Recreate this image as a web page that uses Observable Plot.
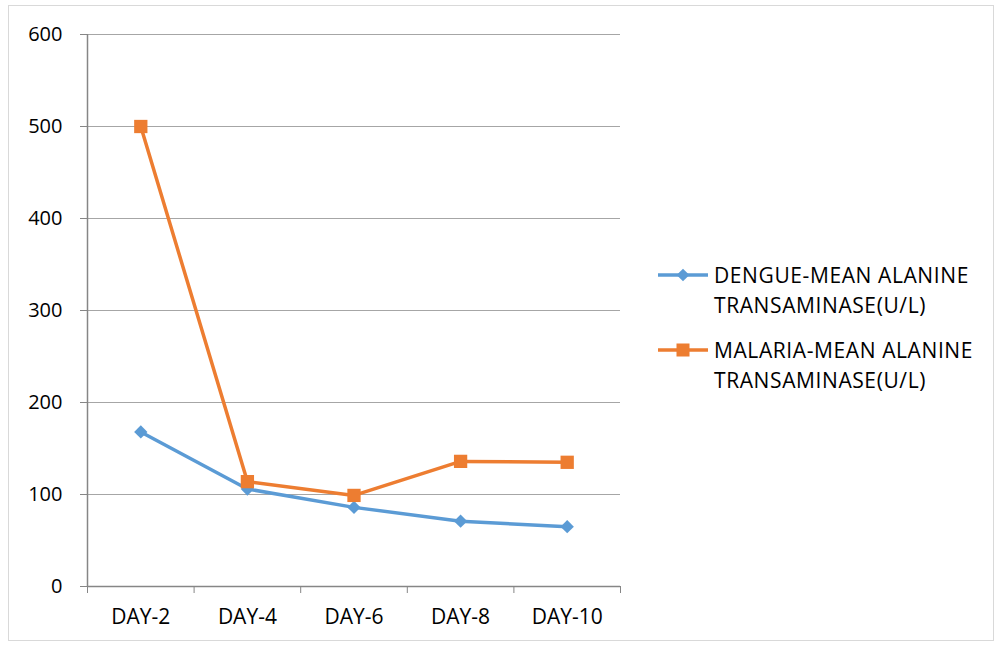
<!DOCTYPE html>
<html>
<head>
<meta charset="utf-8">
<script src="https://cdn.jsdelivr.net/npm/d3@7"></script>
<script src="https://cdn.jsdelivr.net/npm/@observablehq/plot@0.6"></script>
<style>
  body { margin: 0; background: #fff; }
  #wrap { position: relative; width: 994px; height: 646px; font-family: "Open Sans", sans-serif; color: #000; }
  #frame { position: absolute; left: 8px; top: 5px; width: 984px; height: 634px; border: 1px solid #d9d9d9; pointer-events: none; }
  .leg-text { position: absolute; font-size: 21px; line-height: 30px; letter-spacing: 0.6px; white-space: nowrap; color: #000; }
  .leg-key { position: absolute; }
</style>
</head>
<body>
<div id="wrap"><div id="frame"></div></div>
<script>
const categories = ["DAY-2", "DAY-4", "DAY-6", "DAY-8", "DAY-10"];
const dengue = [168, 106, 86, 71, 65];
const malaria = [500, 114, 99, 136, 135];
const yTicks = [0, 100, 200, 300, 400, 500, 600];
const seriesNames = ["DENGUE-MEAN ALANINE TRANSAMINASE(U/L)", "MALARIA-MEAN ALANINE TRANSAMINASE(U/L)"];
const colors = ["#5b9bd5", "#ed7d31"];

const dengueData = categories.map((c, i) => ({cat: c, pos: i + 0.5, v: dengue[i]}));
const malariaData = categories.map((c, i) => ({cat: c, pos: i + 0.5, v: malaria[i]}));
const boundaries = d3.range(categories.length + 1);

const chart = Plot.plot({
  width: 994,
  height: 646,
  marginLeft: 87,
  marginRight: 374,
  marginTop: 34,
  marginBottom: 60,
  style: {fontFamily: "Open Sans, sans-serif", color: "#000", background: "transparent"},
  x: {type: "linear", domain: [0, categories.length], axis: null},
  y: {domain: [0, 600], axis: null},
  marks: [
    Plot.ruleY(yTicks.filter(d => d > 0), {stroke: "#a6a6a6", strokeWidth: 1}),
    Plot.ruleY([0], {stroke: "#868686", strokeWidth: 1.5}),
    Plot.ruleX([0], {y1: 0, y2: 600, stroke: "#868686", strokeWidth: 1.5}),
    Plot.axisY({ticks: yTicks, tickSize: 7, tickPadding: 18, stroke: "#868686", fontSize: 20, fill: "#000", label: null}),
    Plot.axisX({ticks: boundaries, tickSize: 7, tickFormat: () => "", stroke: "#868686", label: null}),
    Plot.axisX({ticks: categories.map((c, i) => i + 0.5), tickSize: 0, tickPadding: 23, tickFormat: d => categories[Math.round(d - 0.5)], fontSize: 21, fill: "#000", label: null}),
    Plot.line(dengueData, {x: "pos", y: "v", stroke: colors[0], strokeWidth: 3.5}),
    Plot.line(malariaData, {x: "pos", y: "v", stroke: colors[1], strokeWidth: 3.5}),
    Plot.dot(dengueData, {x: "pos", y: "v", symbol: "diamond2", r: 6, fill: colors[0], stroke: null}),
    Plot.dot(malariaData, {x: "pos", y: "v", symbol: "square", r: 7.5, fill: colors[1], stroke: null})
  ]
});
const wrap = document.getElementById("wrap");
chart.style.position = "absolute";
chart.style.left = "0";
chart.style.top = "0";
wrap.appendChild(chart);

// Legend
const legendRows = [{y: 275, name: seriesNames[0], color: colors[0], symbol: "diamond"}, {y: 350, name: seriesNames[1], color: colors[1], symbol: "square"}];
legendRows.forEach(row => {
  const key = document.createElementNS("http://www.w3.org/2000/svg", "svg");
  key.setAttribute("class", "leg-key");
  key.setAttribute("width", 54);
  key.setAttribute("height", 20);
  key.style.left = "656px";
  key.style.top = (row.y - 10) + "px";
  let marker;
  if (row.symbol === "diamond") {
    marker = `<rect x="${27 - 4.5}" y="${10 - 4.5}" width="9" height="9" transform="rotate(45 27 10)" fill="${row.color}"/>`;
  } else {
    marker = `<rect x="${27 - 6.5}" y="${10 - 6.5}" width="13" height="13" fill="${row.color}"/>`;
  }
  key.innerHTML = `<line x1="2" x2="52" y1="10" y2="10" stroke="${row.color}" stroke-width="3.5"/>` + marker;
  wrap.appendChild(key);
  const words = row.name.split(" ");
  const txt = document.createElement("div");
  txt.className = "leg-text";
  txt.style.left = "714px";
  txt.style.top = (row.y - 15) + "px";
  txt.innerHTML = words.slice(0, 2).join(" ") + "<br>" + words.slice(2).join(" ");
  wrap.appendChild(txt);
});
</script>
</body>
</html>
